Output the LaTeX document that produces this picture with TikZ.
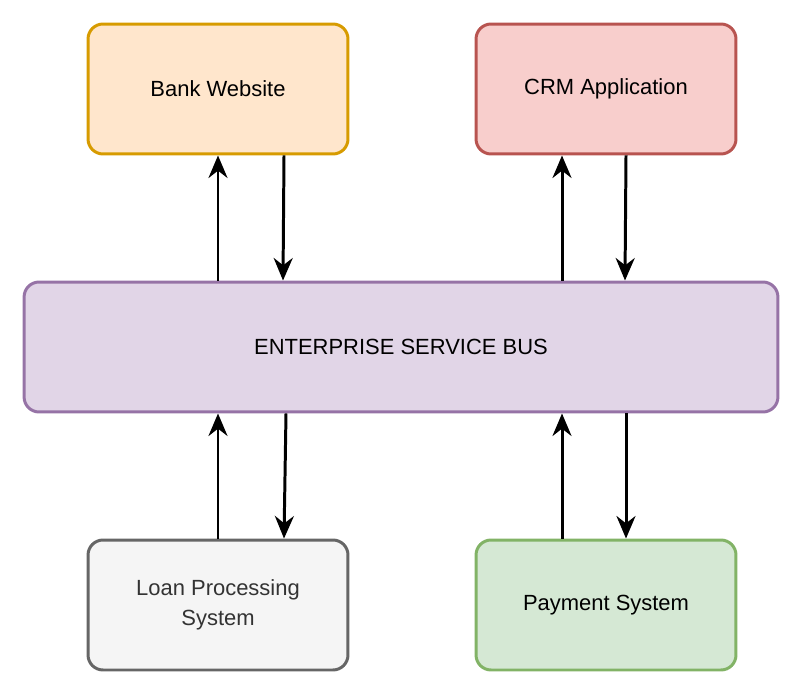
\documentclass[tikz,border=0pt]{standalone}
\usepackage{fontspec}
\setmainfont{Liberation Sans}
\usepackage{xcolor}
\definecolor{bankfill}{HTML}{FFE6CC}\definecolor{bankline}{HTML}{D79B00}
\definecolor{crmfill}{HTML}{F8CECC}\definecolor{crmline}{HTML}{B85450}
\definecolor{esbfill}{HTML}{E1D5E7}\definecolor{esbline}{HTML}{9673A6}
\definecolor{loanfill}{HTML}{F5F5F5}\definecolor{loanline}{HTML}{666666}
\definecolor{payfill}{HTML}{D5E8D4}\definecolor{payline}{HTML}{82B366}
\usetikzlibrary{arrows.meta,positioning}
\begin{document}
\begin{tikzpicture}[x=0.02cm,y=-0.02cm,
  box/.style={draw,line width=1.7pt,rounded corners=0.3cm,minimum width=5.2cm,minimum height=2.6cm,align=center,font=\fontsize{12.5}{17}\selectfont},
  flow/.style={line width=1.7pt,-{Stealth[length=0.45cm,width=0.38cm]}}]
  \useasboundingbox (0,0) rectangle (800,692);
  \node[box,fill=bankfill,draw=bankline] (bank) at (218,89) {Bank Website};
  \node[box,fill=crmfill,draw=crmline] (crm) at (606,89) {CRM Application};
  \node[box,fill=esbfill,draw=esbline,minimum width=15.08cm] (esb) at (401,347) {ENTERPRISE SERVICE BUS};
  \node[box,fill=loanfill,draw=loanline,text=black!80] (loan) at (218,605) {Loan Processing\\System};
  \node[box,fill=payfill,draw=payline] (pay) at (606,605) {Payment System};
  % top links
  \draw[flow] (esb.north -| 218,0) -- (bank.south -| 218,0);
  \draw[flow] (bank.south -| 284,0) -- (esb.north -| 283,0);
  \draw[flow] (esb.north -| 562,0) -- (crm.south -| 562,0);
  \draw[flow] (crm.south -| 626,0) -- (esb.north -| 625,0);
  % bottom links
  \draw[flow] (loan.north -| 218,0) -- (esb.south -| 218,0);
  \draw[flow] (esb.south -| 286,0) -- (loan.north -| 284,0);
  \draw[flow] (pay.north -| 562,0) -- (esb.south -| 562,0);
  \draw[flow] (esb.south -| 626,0) -- (pay.north -| 626,0);
\end{tikzpicture}
\end{document}
